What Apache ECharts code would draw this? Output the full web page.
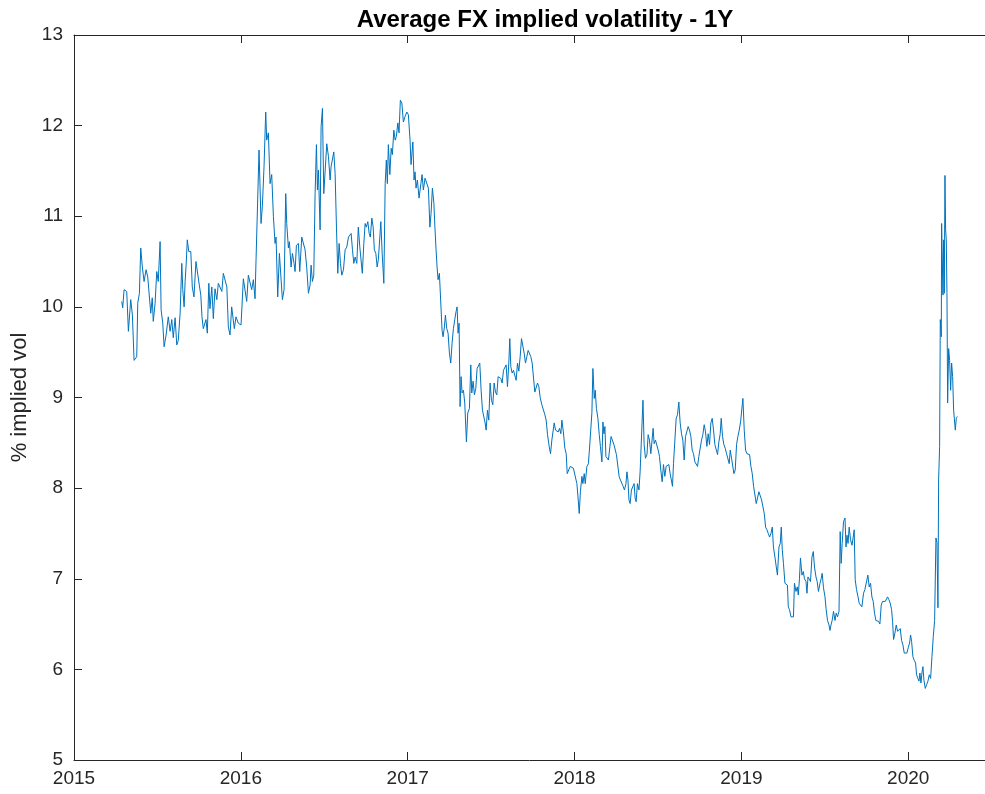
<!DOCTYPE html>
<html>
<head>
<meta charset="utf-8">
<script src="https://cdn.jsdelivr.net/npm/echarts@6/dist/echarts.min.js"></script>
<style>
  html, body { margin: 0; padding: 0; background: #fff; }
  #chart { width: 985px; height: 794px; }
</style>
</head>
<body>
<div id="chart"></div>
<script>
// dates as decimal years
var dates = [
  2015.286,2015.292,2015.300,2015.316,2015.326,2015.340,2015.350,2015.360,2015.376,2015.382,
  2015.392,2015.400,2015.410,2015.420,2015.432,2015.442,2015.451,2015.460,2015.469,2015.475,
  2015.486,2015.496,2015.505,2015.516,2015.522,2015.532,2015.540,2015.552,2015.565,2015.576,
  2015.586,2015.595,2015.606,2015.616,2015.625,2015.636,2015.646,2015.652,2015.660,2015.666,
  2015.672,2015.679,2015.688,2015.700,2015.709,2015.719,2015.731,2015.742,2015.751,2015.760,
  2015.767,2015.775,2015.785,2015.791,2015.799,2015.808,2015.815,2015.826,2015.835,2015.845,
  2015.856,2015.865,2015.875,2015.886,2015.895,2015.905,2015.916,2015.925,2015.935,2015.945,
  2015.955,2015.961,2015.971,2015.985,2016.001,2016.015,2016.025,2016.035,2016.045,2016.055,
  2016.065,2016.075,2016.085,2016.091,2016.099,
  2016.109,2016.121,2016.129,2016.139,2016.149,2016.155,2016.165,2016.175,2016.185,2016.195,
  2016.205,2016.211,2016.221,2016.231,2016.241,2016.249,2016.259,2016.269,2016.275,2016.285,
  2016.291,2016.301,2016.309,2016.319,2016.325,2016.333,2016.345,2016.353,2016.365,2016.375,
  2016.385,2016.395,2016.405,2016.415,2016.421,2016.429,2016.437,2016.445,2016.453,2016.459,
  2016.465,2016.475,2016.481,2016.489,2016.497,2016.505,2016.515,2016.525,2016.535,2016.541,
  2016.549,2016.557,2016.565,2016.573,2016.581,2016.589,2016.597,2016.605,2016.615,2016.625,
  2016.635,2016.645,2016.655,2016.661,2016.669,2016.677,2016.685,2016.695,2016.704,2016.713,
  2016.721,2016.728,2016.737,2016.745,2016.752,2016.761,2016.769,2016.776,2016.785,2016.793,
  2016.800,2016.809,2016.817,2016.824,2016.833,2016.839,2016.847,2016.857,2016.865,2016.872,
  2016.878,2016.884,2016.893,2016.901,2016.908,2016.917,2016.925,2016.932,2016.941,2016.948,
  2016.956,
  2016.965,2016.974,2016.984,2016.995,2017.004,2017.014,2017.020,2017.031,2017.038,2017.044,
  2017.050,2017.058,2017.068,2017.079,2017.086,2017.094,2017.104,2017.115,2017.124,2017.133,
  2017.140,2017.148,2017.157,2017.163,2017.170,2017.176,2017.182,2017.190,2017.198,2017.206,
  2017.212,2017.220,2017.226,2017.234,2017.242,2017.250,2017.258,2017.266,2017.274,2017.282,
  2017.290,2017.296,2017.302,2017.308,2017.314,2017.320,2017.326,2017.334,2017.342,2017.352,
  2017.360,2017.370,2017.378,2017.384,2017.392,2017.400,2017.408,2017.416,2017.424,2017.432,
  2017.440,2017.448,2017.456,2017.464,2017.470,2017.478,2017.486,2017.494,2017.502,2017.510,
  2017.518,2017.526,2017.534,2017.542,2017.550,2017.558,2017.566,2017.574,2017.582,2017.590,
  2017.598,2017.606,2017.612,2017.618,2017.626,2017.634,2017.642,2017.650,2017.658,2017.666,
  2017.674,2017.682,2017.690,2017.698,2017.706,2017.714,2017.722,2017.730,2017.738,2017.746,
  2017.754,2017.762,2017.770,2017.778,2017.786,
  2017.794,2017.804,2017.814,2017.822,2017.830,2017.838,2017.848,2017.856,2017.864,2017.872,
  2017.878,2017.886,2017.894,2017.902,2017.910,2017.918,2017.924,2017.933,2017.942,2017.950,
  2017.956,2017.966,2017.974,2017.984,2017.993,2018.004,2018.014,2018.022,2018.028,2018.035,
  2018.044,2018.050,2018.058,2018.064,2018.074,2018.083,2018.089,2018.098,2018.104,2018.110,
  2018.118,2018.124,2018.131,2018.140,2018.148,2018.155,2018.164,2018.170,2018.176,2018.182,
  2018.188,2018.195,2018.203,2018.212,2018.219,2018.227,2018.236,2018.243,2018.251,2018.260,
  2018.267,2018.275,2018.284,2018.291,2018.299,2018.308,2018.314,2018.320,2018.326,2018.333,
  2018.341,2018.350,2018.357,2018.363,2018.369,2018.377,2018.386,2018.393,2018.401,2018.410,
  2018.417,2018.425,2018.434,2018.441,2018.449,2018.457,2018.465,2018.471,2018.477,2018.485,
  2018.493,2018.501,2018.509,2018.517,2018.525,2018.533,2018.541,2018.549,2018.557,2018.565,
  2018.573,2018.581,2018.587,2018.593,2018.601,2018.609,2018.617,2018.625,2018.633,2018.641,
  2018.649,2018.657,2018.665,2018.673,2018.681,2018.689,2018.697,2018.705,2018.713,2018.721,
  2018.729,2018.737,2018.745,
  2018.753,2018.761,2018.769,2018.777,2018.785,2018.793,2018.801,2018.809,2018.817,2018.825,
  2018.833,2018.841,2018.849,2018.857,2018.865,2018.873,2018.879,2018.887,2018.895,2018.903,
  2018.911,2018.919,2018.927,2018.933,2018.941,2018.949,2018.955,2018.963,2018.971,2018.979,
  2018.987,2018.995,2019.003,2019.009,2019.017,2019.025,2019.033,2019.041,2019.049,2019.057,
  2019.065,2019.073,2019.081,2019.089,2019.097,2019.105,2019.113,2019.121,2019.129,2019.137,
  2019.145,2019.153,2019.161,2019.169,2019.177,2019.185,2019.192,2019.201,2019.209,2019.216,
  2019.225,2019.233,2019.239,2019.245,2019.252,2019.261,2019.269,2019.276,2019.281,2019.288,
  2019.297,2019.305,2019.312,2019.318,2019.327,2019.335,2019.341,2019.348,2019.354,2019.363,
  2019.371,2019.378,2019.387,2019.393,2019.399,2019.407,2019.414,2019.423,2019.431,2019.438,
  2019.447,2019.454,2019.462,2019.471,2019.478,2019.484,2019.492,2019.501,2019.508,2019.516,
  2019.525,2019.531,2019.537,2019.544,2019.552,2019.561,2019.568,2019.576,2019.585,2019.592,
  2019.598,2019.604,2019.612,2019.621,2019.627,2019.633,2019.639,2019.646,2019.654,2019.663,
  2019.670,2019.676,2019.682,2019.690,2019.699,2019.706,
  2019.722,2019.732,2019.740,2019.748,2019.758,2019.766,2019.774,2019.782,2019.790,2019.798,
  2019.806,2019.814,2019.822,2019.830,2019.838,2019.846,2019.854,2019.862,2019.870,2019.876,
  2019.884,2019.892,2019.900,2019.906,2019.912,2019.920,2019.928,2019.936,2019.944,2019.952,
  2019.960,2019.968,2019.976,2019.984,2019.992,2020.000,2020.008,2020.014,2020.020,2020.028,
  2020.036,2020.044,2020.050,2020.058,2020.064,2020.070,2020.076,2020.082,2020.088,2020.094,
  2020.102,2020.110,2020.118,2020.126,2020.134,2020.142,2020.150,2020.158,2020.166,2020.172,
  2020.178,2020.182,2020.188,2020.192,2020.198,2020.200,2020.208,2020.212,2020.216,2020.220,
  2020.224,2020.228,2020.232,2020.236,2020.242,2020.248,2020.254,2020.260,2020.266,2020.272,
  2020.278,2020.282,2020.288,2020.294
];

// average 1Y implied vol, %
var vols = [
  10.06,9.99,10.19,10.17,9.73,10.08,9.91,9.41,9.45,10.04,
  10.15,10.65,10.43,10.28,10.41,10.33,10.35,9.93,10.10,9.84,
  10.04,10.39,10.28,10.72,9.97,9.82,9.56,9.69,9.89,9.73,
  9.86,9.66,9.88,9.58,9.63,9.93,10.48,10.19,10.00,10.28,
  10.46,10.74,10.61,10.61,10.22,10.11,10.50,10.48,10.24,10.13,
  9.89,9.76,9.76,9.86,9.71,10.26,9.98,10.22,9.87,10.20,
  10.08,10.26,10.24,10.17,10.37,10.35,10.22,9.78,9.69,10.00,
  10.02,9.76,9.89,9.82,9.80,10.31,10.30,10.06,10.35,10.37,
  10.19,10.30,10.09,10.52,10.50,
  11.73,10.92,11.11,11.55,12.15,11.84,11.92,11.36,11.46,11.00,
  10.70,10.77,10.11,10.59,10.61,10.08,10.19,11.25,10.92,10.65,
  10.72,10.44,10.59,10.48,10.39,10.68,10.70,10.39,10.77,10.79,
  10.63,10.43,10.15,10.24,10.46,10.28,10.35,11.25,11.79,11.29,
  11.51,10.85,11.99,12.19,11.25,11.27,11.80,11.66,11.40,11.55,
  11.53,11.71,11.47,10.88,10.37,10.70,10.48,10.35,10.41,10.63,
  10.66,10.77,10.76,10.81,10.63,10.48,10.55,10.48,10.88,10.66,
  10.66,10.37,10.70,10.92,10.88,10.94,10.81,10.77,10.98,10.88,
  10.63,10.59,10.44,10.52,10.52,10.94,10.59,10.26,11.36,11.62,
  11.36,11.79,11.46,11.75,11.68,11.95,11.84,11.88,12.03,11.92,
  12.28,
  12.25,12.04,12.10,12.15,12.12,11.84,11.57,11.82,11.40,11.49,
  11.31,11.40,11.20,11.36,11.46,11.29,11.42,11.40,11.31,10.88,
  11.03,11.31,11.14,10.88,10.63,10.44,10.30,10.37,10.35,9.74,
  9.67,9.78,9.91,9.76,9.71,9.49,9.38,9.60,9.76,9.86,
  9.95,10.00,9.71,9.82,8.90,9.23,9.05,9.08,8.94,8.51,
  8.83,8.88,9.36,9.05,9.18,9.03,9.10,9.32,9.30,9.38,
  9.08,8.86,8.88,8.72,8.64,8.86,8.75,9.16,8.97,8.92,
  9.16,9.06,9.03,9.23,9.23,9.21,9.16,9.30,9.30,9.36,
  9.12,9.38,9.65,9.34,9.27,9.30,9.32,9.19,9.38,9.29,
  9.45,9.65,9.67,9.49,9.38,9.45,9.52,9.54,9.45,9.38,
  9.36,9.06,9.08,9.16,9.12,
  9.00,8.92,8.94,8.81,8.75,8.59,8.46,8.38,8.53,8.55,
  8.72,8.64,8.66,8.62,8.66,8.60,8.75,8.62,8.44,8.38,
  8.16,8.14,8.24,8.22,8.22,8.24,8.05,7.87,7.72,7.96,
  8.13,8.05,8.16,8.05,8.24,8.27,8.42,8.44,8.83,9.32,
  8.99,9.08,8.88,8.77,8.59,8.46,8.29,8.73,8.60,8.68,
  8.35,8.35,8.31,8.46,8.57,8.55,8.48,8.46,8.37,8.35,
  8.13,8.09,8.07,8.02,7.98,8.05,8.18,8.09,7.87,7.83,
  7.98,7.96,8.05,7.89,7.85,8.05,7.98,8.18,8.20,8.97,
  8.48,8.33,8.37,8.59,8.53,8.38,8.40,8.66,8.49,8.53,
  8.51,8.42,8.35,8.20,8.07,8.26,8.13,8.24,8.22,8.26,
  8.16,8.18,8.02,8.27,8.29,8.77,8.81,8.95,8.72,8.60,
  8.53,8.31,8.57,8.57,8.68,8.64,8.57,8.42,8.38,8.29,
  8.31,8.24,8.35,
  8.35,8.53,8.59,8.70,8.62,8.46,8.60,8.48,8.72,8.77,
  8.64,8.48,8.49,8.37,8.51,8.60,8.77,8.57,8.48,8.44,
  8.38,8.37,8.27,8.42,8.33,8.35,8.16,8.20,8.48,8.57,
  8.64,8.73,8.73,8.99,8.64,8.42,8.38,8.40,8.37,8.24,
  8.16,8.02,8.03,7.83,7.81,7.96,7.96,7.87,7.87,7.72,
  7.57,7.54,7.50,7.46,7.50,7.57,7.35,7.24,7.13,7.04,
  7.35,7.39,7.57,7.32,7.17,6.95,6.93,6.93,6.69,6.66,
  6.58,6.58,6.58,6.95,6.86,6.91,6.82,7.00,7.23,7.04,
  7.08,7.00,6.97,6.84,7.02,7.04,6.97,7.24,7.30,7.13,
  7.02,6.97,6.86,6.95,7.00,7.06,6.90,6.80,6.66,6.54,
  6.49,6.43,6.49,6.54,6.64,6.54,6.62,6.58,6.64,7.52,
  7.17,7.39,7.63,7.67,7.35,7.48,7.39,7.57,7.43,7.37,
  7.46,7.54,6.99,6.88,6.80,6.73,
  6.69,6.84,6.88,6.88,7.04,6.91,6.95,6.80,6.75,6.62,
  6.54,6.52,6.53,6.50,6.71,6.75,6.74,6.75,6.75,6.80,
  6.77,6.73,6.66,6.53,6.33,6.40,6.49,6.42,6.43,6.45,
  6.32,6.27,6.18,6.18,6.18,6.24,6.29,6.38,6.31,6.14,
  6.10,6.07,5.94,5.90,5.87,5.96,5.85,5.96,6.03,5.88,
  5.79,5.83,5.87,5.94,5.90,6.14,6.36,6.54,7.45,7.40,
  6.68,8.09,8.46,9.86,9.67,10.92,10.13,10.74,10.15,11.45,
  10.85,10.74,10.15,8.94,9.54,9.41,9.08,9.38,9.23,8.86,
  8.84,8.64,8.77,8.79
];

var yearTicks = [2015, 2016, 2017, 2018, 2019, 2020];

var axisColor = '#262626';
var fontName = 'Liberation Sans, Arial, sans-serif';

var chart = echarts.init(document.getElementById('chart'), null, { renderer: 'canvas' });

function yearLabel(v) {
  return yearTicks.indexOf(Math.round(v * 1000) / 1000) >= 0 ? String(v) : '';
}

chart.setOption({
  animation: false,
  backgroundColor: '#ffffff',
  title: {
    text: 'Average FX implied volatility - 1Y',
    left: 540,
    top: 3,
    textAlign: 'center',
    textStyle: {
      color: '#000',
      fontSize: 24,
      fontWeight: 'bold',
      fontFamily: fontName
    }
  },
  grid: {
    left: 74,
    right: 0,
    top: 35,
    bottom: 34
  },
  xAxis: [{
    type: 'value',
    min: 2015,
    max: 2020.46,
    interval: 1,
    axisLine: { show: true, lineStyle: { color: axisColor, width: 1 } },
    axisTick: { show: true, inside: true, length: 8, lineStyle: { color: axisColor } },
    axisLabel: {
      color: axisColor,
      fontSize: 19,
      fontFamily: fontName,
      margin: 9,
      showMaxLabel: false,
      formatter: yearLabel
    },
    splitLine: { show: false }
  }, {
    type: 'value',
    position: 'top',
    min: 2015,
    max: 2020.46,
    interval: 1,
    axisLine: { show: true, onZero: false, lineStyle: { color: axisColor, width: 1 } },
    axisTick: { show: true, inside: true, length: 8, lineStyle: { color: axisColor } },
    axisLabel: { show: false },
    splitLine: { show: false }
  }],
  yAxis: {
    type: 'value',
    min: 5,
    max: 13,
    interval: 1,
    name: '% implied vol',
    nameLocation: 'middle',
    nameGap: 43,
    nameTextStyle: {
      color: axisColor,
      fontSize: 22,
      fontFamily: fontName
    },
    axisLine: { show: true, lineStyle: { color: axisColor, width: 1 } },
    axisTick: { show: true, inside: true, length: 8, lineStyle: { color: axisColor } },
    axisLabel: {
      color: axisColor,
      fontSize: 19,
      fontFamily: fontName,
      margin: 11
    },
    splitLine: { show: false }
  },
  series: [{
    name: 'Average FX implied volatility - 1Y',
    type: 'line',
    xAxisIndex: 0,
    showSymbol: false,
    symbol: 'none',
    lineStyle: { color: '#0072BD', width: 1 },
    data: dates.map(function (d, i) { return [d, vols[i]]; })
  }]
});
</script>
</body>
</html>
